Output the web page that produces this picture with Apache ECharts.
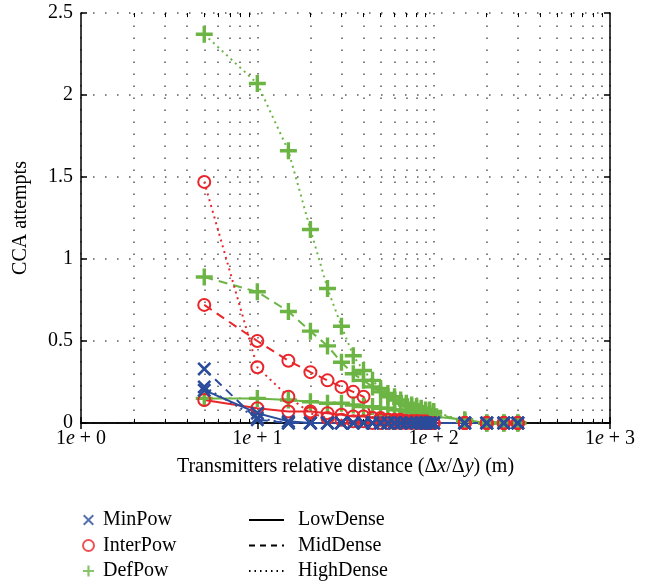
<!DOCTYPE html>
<html>
<head>
<meta charset="utf-8">
<script src="https://cdn.jsdelivr.net/npm/echarts@6/dist/echarts.min.js"></script>
<style>
  html, body { margin: 0; padding: 0; background: #fff; }
  #chart { width: 655px; height: 586px; }
</style>
</head>
<body>
<div id="chart"></div>
<script>
// distances (m)
const xs = [5, 10, 15, 20, 25, 30, 35, 40, 45, 50, 55, 60, 65, 70, 75, 80, 85, 90, 95, 100, 150, 200, 250, 300];

// DefPow
const defHigh = [2.37, 2.07, 1.66, 1.18, 0.82, 0.59, 0.41, 0.32, 0.26, 0.21, 0.18, 0.16, 0.14, 0.12, 0.11, 0.10, 0.09, 0.08, 0.08, 0.07, 0.01, 0, 0, 0];
const defMid = [0.89, 0.80, 0.68, 0.56, 0.47, 0.37, 0.30, 0.26, 0.22, 0.19, 0.16, 0.14, 0.12, 0.11, 0.10, 0.09, 0.08, 0.07, 0.06, 0.06, 0.01, 0, 0, 0];
const defLow = [0.15, 0.15, 0.14, 0.13, 0.12, 0.12, 0.11, 0.10, 0.10, 0.09, 0.09, 0.08, 0.08, 0.07, 0.07, 0.06, 0.06, 0.05, 0.05, 0.04, 0.02, 0, 0, 0];
// InterPow
const interHigh = [1.47, 0.34, 0.16, 0.06, 0.03, 0.02, 0.01, 0.01, 0, 0, 0, 0, 0, 0, 0, 0, 0, 0, 0, 0, 0, 0, 0, 0];
const interMid = [0.72, 0.50, 0.38, 0.31, 0.26, 0.22, 0.19, 0.16, 0.03, 0.02, 0.02, 0.01, 0.01, 0.01, 0.01, 0.01, 0, 0, 0, 0, 0, 0, 0, 0];
const interLow = [0.14, 0.09, 0.07, 0.07, 0.06, 0.05, 0.04, 0.04, 0.03, 0.03, 0.02, 0.02, 0.02, 0.01, 0.01, 0.01, 0.01, 0.01, 0, 0, 0, 0, 0, 0];
// MinPow
const minHigh = [0.22, 0.03, 0, 0, 0, 0, 0, 0, 0, 0, 0, 0, 0, 0, 0, 0, 0, 0, 0, 0, 0, 0, 0, 0];
const minMid = [0.33, 0.02, 0, 0, 0, 0, 0, 0, 0, 0, 0, 0, 0, 0, 0, 0, 0, 0, 0, 0, 0, 0, 0, 0];
const minLow = [0.20, 0.06, 0.01, 0, 0, 0, 0, 0, 0, 0, 0, 0, 0, 0, 0, 0, 0, 0, 0, 0, 0, 0, 0, 0];

const minorTicks = [2, 3, 4, 5, 6, 7, 8, 9, 20, 30, 40, 50, 60, 70, 80, 90, 200, 300, 400, 500, 600, 700, 800, 900];

const BLUE = '#2b4c9b', RED = '#e8262b', GREEN = '#6cb545';
const FONT = 'Liberation Serif';
const FS = 20;
const PLUS = 'path://M4,0H6V4H10V6H6V10H4V6H0V4H4Z';
const CROSS = 'path://M0,1.3L1.3,0L5,3.7L8.7,0L10,1.3L6.3,5L10,8.7L8.7,10L5,6.3L1.3,10L0,8.7L3.7,5Z';
const NONE = 'rgba(0,0,0,0)';

const dash = { solid: 'solid', mid: [9, 6], high: [2, 4] };

function pts(arr) { return xs.map((x, i) => [x, arr[i]]); }

function mk(name, arr, color, kind, type) {
  let symbol, size, itemStyle;
  if (kind === 'o') {
    symbol = 'circle'; size = 12;
    itemStyle = { color: NONE, borderColor: color, borderWidth: 2 };
  } else if (kind === '+') {
    symbol = PLUS; size = 17;
    itemStyle = { color: color, borderWidth: 0 };
  } else {
    symbol = CROSS; size = 14;
    itemStyle = { color: color, borderWidth: 0 };
  }
  return {
    name: name, type: 'line', data: pts(arr), clip: false,
    symbol: symbol, symbolSize: size, showAllSymbol: true,
    itemStyle: itemStyle,
    lineStyle: { color: color, width: 2, type: type },
    emphasis: { disabled: true }, silent: true
  };
}

// helper: minor grid lines and minor ticks
const minorLines = [];
minorTicks.forEach(v => {
  minorLines.push({ xAxis: v, lineStyle: { color: '#555', width: 1.5, type: [1.5, 10.5] } });
  minorLines.push([{ coord: [v, 0] }, { coord: [v, 0.025] }]);
  minorLines.push([{ coord: [v, 2.5] }, { coord: [v, 2.475] }]);
});

const series = [
  {
    name: 'helper', type: 'line', data: [], silent: true,
    markLine: {
      silent: true, symbol: 'none', z: 1, animation: false,
      label: { show: false },
      lineStyle: { color: '#000', width: 1, type: 'solid' },
      data: minorLines
    }
  },
  mk('gH', defHigh, GREEN, '+', dash.high),
  mk('gM', defMid, GREEN, '+', dash.mid),
  mk('gL', defLow, GREEN, '+', dash.solid),
  mk('rH', interHigh, RED, 'o', dash.high),
  mk('rM', interMid, RED, 'o', dash.mid),
  mk('rL', interLow, RED, 'o', dash.solid),
  mk('bH', minHigh, BLUE, 'x', dash.high),
  mk('bM', minMid, BLUE, 'x', dash.mid),
  mk('bL', minLow, BLUE, 'x', dash.solid),
  // legend-only entries
  { name: 'MinPow', type: 'scatter', data: [], symbol: CROSS, itemStyle: { color: BLUE } },
  { name: 'InterPow', type: 'scatter', data: [], symbol: 'circle', itemStyle: { color: NONE, borderColor: RED, borderWidth: 2.5 } },
  { name: 'DefPow', type: 'scatter', data: [], symbol: PLUS, itemStyle: { color: GREEN } },
  { name: 'LowDense', type: 'line', data: [], symbol: 'none', itemStyle: { color: NONE, borderWidth: 0 }, lineStyle: { color: '#000', width: 2.5, type: 'solid' } },
  { name: 'MidDense', type: 'line', data: [], symbol: 'none', itemStyle: { color: NONE, borderWidth: 0 }, lineStyle: { color: '#000', width: 2.5, type: [6, 5] } },
  { name: 'HighDense', type: 'line', data: [], symbol: 'none', itemStyle: { color: NONE, borderWidth: 0 }, lineStyle: { color: '#000', width: 1.5, type: [1.5, 4] } }
];

const chart = echarts.init(document.getElementById('chart'));
const axisLine = { show: true, lineStyle: { color: '#000', width: 1.5 } };
const textBase = { fontFamily: FONT, fontSize: FS, color: '#000', lineHeight: 20 };

chart.setOption({
  animation: false,
  backgroundColor: '#fff',
  grid: { left: 81, right: 45, top: 13, bottom: 163 },
  legend: [
    {
      data: ['MinPow', 'InterPow', 'DefPow'], orient: 'vertical',
      left: 82, top: 510, padding: 0, itemWidth: 11, itemHeight: 11, itemGap: 5.5,
      textStyle: Object.assign({ padding: [0, 0, 0, 4] }, textBase),
      selectedMode: false
    },
    {
      data: ['LowDense', 'MidDense', 'HighDense'], orient: 'vertical',
      left: 248, top: 510, padding: 0, itemWidth: 35, itemHeight: 12, itemGap: 5.5,
      textStyle: Object.assign({ padding: [0, 0, 0, 9] }, textBase),
      selectedMode: false
    }
  ],
  xAxis: [
    {
      type: 'log', logBase: 10, min: 1, max: 1000,
      axisLine: axisLine,
      axisTick: { inside: true, length: 6, lineStyle: { color: '#000', width: 1.5 } },
      splitLine: { show: true, lineStyle: { color: '#555', width: 1.5, type: [1.5, 10.5] } },
      axisLabel: {
        margin: 6,
        formatter: v => '1{i|e} + ' + Math.round(Math.log10(v)),
        fontFamily: FONT, fontSize: FS, color: '#000',
        rich: { i: { fontFamily: FONT, fontSize: FS, fontStyle: 'italic', color: '#000' } }
      },
      name: 'Transmitters relative distance ({n|Δ}{i|x}{n|/Δ}{i|y}{n|) (m)}',
      nameLocation: 'middle', nameGap: 34,
      nameTextStyle: {
        fontFamily: FONT, fontSize: FS, color: '#000',
        rich: {
          n: { fontFamily: FONT, fontSize: FS, color: '#000' },
          i: { fontFamily: FONT, fontSize: FS, fontStyle: 'italic', color: '#000' }
        }
      }
    },
    {
      type: 'log', logBase: 10, min: 1, max: 1000, position: 'top',
      axisLine: axisLine,
      axisTick: { inside: true, length: 6, lineStyle: { color: '#000', width: 1.5 } },
      axisLabel: { show: false }, splitLine: { show: false }
    }
  ],
  yAxis: [
    {
      type: 'value', min: 0, max: 2.5, interval: 0.5,
      axisLine: axisLine,
      axisTick: { inside: true, length: 6, lineStyle: { color: '#000', width: 1.5 } },
      splitLine: { show: true, lineStyle: { color: '#555', width: 1.5, type: [1.5, 10.5] } },
      axisLabel: { margin: 8, fontFamily: FONT, fontSize: FS, color: '#000' },
      name: 'CCA attempts', nameLocation: 'middle', nameGap: 50,
      nameTextStyle: { fontFamily: FONT, fontSize: FS, color: '#000' }
    },
    {
      type: 'value', min: 0, max: 2.5, interval: 0.5, position: 'right',
      axisLine: axisLine,
      axisTick: { inside: true, length: 6, lineStyle: { color: '#000', width: 1.5 } },
      axisLabel: { show: false }, splitLine: { show: false }
    }
  ],
  series: series
});
</script>
</body>
</html>
